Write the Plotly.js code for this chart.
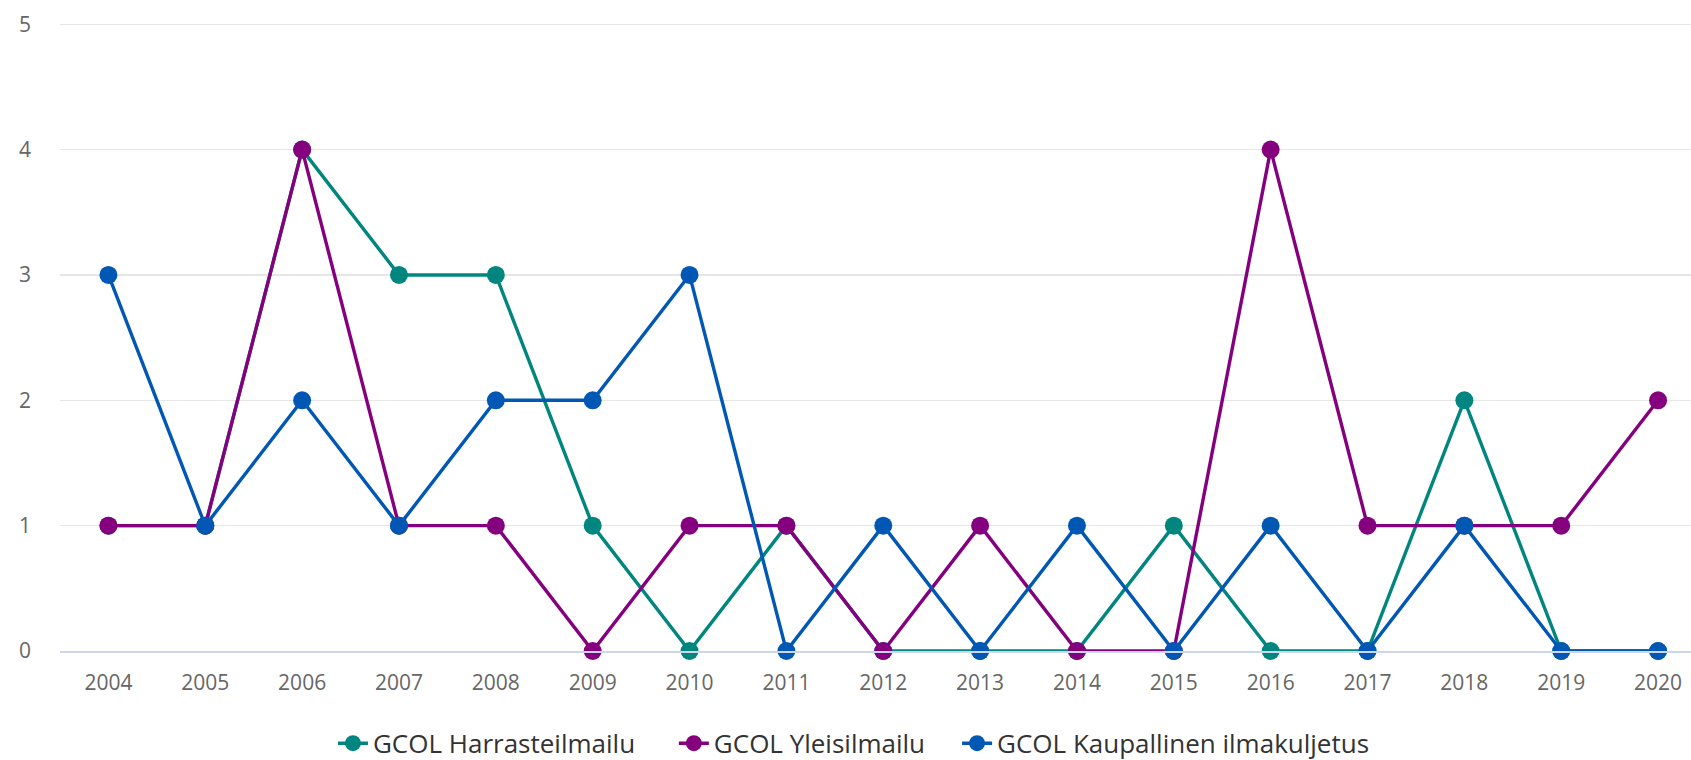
<!DOCTYPE html>
<html>
<head>
<meta charset="utf-8">
<script src="https://cdn.plot.ly/plotly-3.0.1.min.js"></script>
<style>
html,body{margin:0;padding:0;background:#fff;}
#chart{width:1691px;height:760px;}
</style>
</head>
<body>
<div id="chart"></div>
<script>
const years = ['2004','2005','2006','2007','2008','2009','2010','2011','2012','2013','2014','2015','2016','2017','2018','2019','2020'];
const harrasteilmailu = [1,1,4,3,3,1,0,1,0,0,0,1,0,0,2,0,0];
const yleisilmailu = [1,1,4,1,1,0,1,1,0,1,0,0,4,1,1,1,2];
const kaupallinen = [3,1,2,1,2,2,3,0,1,0,1,0,1,0,1,0,0];
const seriesNames = ['GCOL Harrasteilmailu','GCOL Yleisilmailu','GCOL Kaupallinen ilmakuljetus'];
const seriesColors = ['#00857f','#85007f','#0058b4'];
const yTicks = [0,1,2,3,4,5];

const pads = ['\u00a0\u00a0\u00a0\u00a0\u00a0', '\u00a0\u00a0\u00a0\u00a0', ''];
const allSeries = [harrasteilmailu, yleisilmailu, kaupallinen];
const traces = allSeries.map((vals, i) => ({
  type: 'scatter',
  mode: 'lines+markers',
  x: years,
  y: vals,
  name: seriesNames[i] + pads[i],
  line: {color: seriesColors[i], width: 3.4},
  marker: {color: seriesColors[i], size: 18},
  cliponaxis: false
}));

const layout = {
  width: 1691,
  height: 760,
  margin: {l: 60, r: 0, t: 23, b: 109},
  paper_bgcolor: '#ffffff',
  plot_bgcolor: '#ffffff',
  font: {family: '"Open Sans", sans-serif', size: 21, color: '#666666'},
  showlegend: true,
  legend: {
    orientation: 'h',
    xref: 'container', yref: 'container',
    x: 0.505, xanchor: 'center',
    y: 0.022, yanchor: 'middle',
    font: {size: 26, color: '#333333'},
    itemwidth: 30
  },
  xaxis: {
    type: 'category',
    range: [-0.5, 16.34],
    showgrid: false,
    showline: true,
    linecolor: '#ccd6eb',
    linewidth: 1.5,
    ticks: '',
    ticklabelstandoff: 12,
    tickfont: {size: 21, color: '#666666'},
    zeroline: false,
    fixedrange: true,
    automargin: false
  },
  yaxis: {
    range: [0, 5.01],
    tickvals: yTicks,
    showgrid: true,
    gridcolor: '#e6e6e6',
    gridwidth: 1.5,
    zeroline: false,
    showline: false,
    ticks: '',
    ticklabelstandoff: 28,
    tickfont: {size: 21, color: '#666666'},
    fixedrange: true,
    automargin: false
  }
};

Plotly.newPlot('chart', traces, layout, {displayModeBar: false, staticPlot: true});
</script>
</body>
</html>
